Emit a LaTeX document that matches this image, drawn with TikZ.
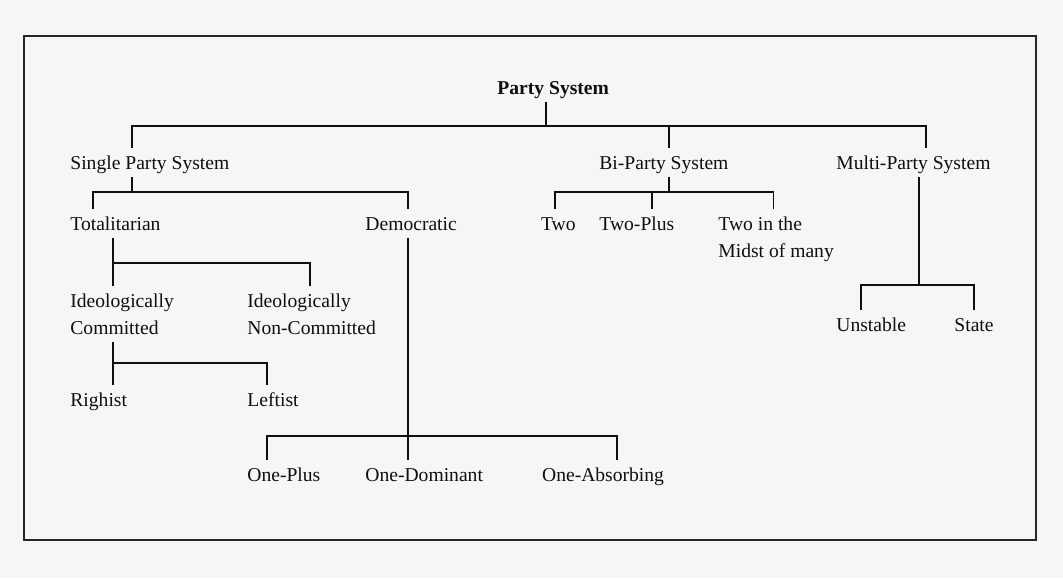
\documentclass[tikz,border=0pt]{standalone}
\usepackage{fontspec}
\setmainfont{Liberation Serif}
\usepackage{tikz}
\definecolor{paper}{RGB}{246,246,246}
\definecolor{ink}{RGB}{15,15,15}
\tikzset{
  lbl/.style={anchor=north west, inner xsep=0pt, inner ysep=3.5pt,
    font=\fontsize{9.8}{13.5}\selectfont, text=ink},
  lblone/.style={lbl, text height=7pt, text depth=0pt},
  lbltwo/.style={lbl, align=left},
  head/.style={lblone, font=\fontsize{9.8}{13.5}\selectfont\bfseries},
  link/.style={draw=ink, line width=0.85pt},
  bus/.style={draw=ink, line width=1.2pt}
}

\begin{document}
\begin{tikzpicture}[x=0.5pt,y=-0.5pt]
  \fill[paper] (0,0) rectangle (1063,578);
  \useasboundingbox (0,0) rectangle (1063,578);
  \draw[black!85, line width=0.9pt] (23.7,36) rectangle (1036,540);

  % labels
  \node[head] (party) at (497,72.7) {Party System};
  \node[lblone] (sps) at (70,148) {Single Party System};
  \node[lblone] (bps) at (599,148) {Bi-Party System};
  \node[lblone] (mps) at (836,148) {Multi-Party System};

  \node[lblone] (tot) at (70,209) {Totalitarian};
  \node[lblone] (dem) at (365,209) {Democratic};
  \node[lblone] (two) at (540.7,209) {Two};
  \node[lblone] (twoplus) at (599,209) {Two-Plus};
  \node[lbltwo] (twomidst) at (718,209) {Two in the\\Midst of many};

  \node[lbltwo] (idc) at (70,286) {Ideologically\\Committed};
  \node[lbltwo] (idn) at (247,286) {Ideologically\\Non-Committed};
  \node[lblone] (rig) at (70,385) {Righist};
  \node[lblone] (lef) at (247,385) {Leftist};

  \node[lblone] (oneplus) at (247,460) {One-Plus};
  \node[lblone] (onedom) at (365,460) {One-Dominant};
  \node[lblone] (oneabs) at (541.7,460) {One-Absorbing};

  \node[lblone] (unst) at (836,310) {Unstable};
  \node[lblone] (stat) at (954,310) {State};

  % junctions on the bars
  \coordinate (b0l) at (131.7,125.7);
  \coordinate (b0p) at (546,125.7);
  \coordinate (b0b) at (669,125.7);
  \coordinate (b0r) at (925.9,125.7);

  \coordinate (b1l) at (93,191.7);
  \coordinate (b1s) at (131.7,191.7);
  \coordinate (b1r) at (407.7,191.7);

  \coordinate (b2l) at (113,262.7);
  \coordinate (b2r) at (310,262.7);

  \coordinate (b3l) at (113,362.7);
  \coordinate (b3r) at (267,362.7);

  \coordinate (b4l) at (266.7,436);
  \coordinate (b4m) at (407.7,436);
  \coordinate (b4r) at (616.7,436);

  \coordinate (b5l) at (555,191.7);
  \coordinate (b5m) at (651.7,191.7);
  \coordinate (b5b) at (669,191.7);
  \coordinate (b5r) at (773.4,191.7);

  \coordinate (b6l) at (860.7,285);
  \coordinate (b6m) at (919,285);
  \coordinate (b6r) at (974,285);

  % top level
  \draw[bus] (sps.north -| b0l) -- (b0l) -- (b0r) -- (mps.north -| b0r);
  \draw[link] (party.south -| b0p) -- (b0p);
  \draw[link] (b0b) -- (bps.north -| b0b);

  % single party
  \draw[link] (sps.south -| b1s) -- (b1s);
  \draw[link] (tot.north -| b1l) -- (b1l) -- (b1r) -- (dem.north -| b1r);

  \draw[link] (tot.south -| b2l) -- (idc.north -| b2l);
  \draw[link] (b2l) -- (b2r) -- (idn.north -| b2r);

  \draw[link] (idc.south -| b3l) -- (rig.north -| b3l);
  \draw[link] (b3l) -- (b3r) -- (lef.north -| b3r);

  \draw[link] (dem.south -| b4m) -- (onedom.north -| b4m);
  \draw[link] (oneplus.north -| b4l) -- (b4l) -- (b4r) -- (oneabs.north -| b4r);

  % bi-party
  \draw[link] (bps.south -| b5b) -- (b5b);
  \draw[link] (two.north -| b5l) -- (b5l) -- (b5r) -- (twomidst.north -| b5r);
  \draw[link] (b5m) -- (twoplus.north -| b5m);

  % multi-party
  \draw[bus] (mps.south -| b6m) -- (b6m);
  \draw[bus] (unst.north -| b6l) -- (b6l) -- (b6r) -- (stat.north -| b6r);
\end{tikzpicture}
\end{document}
